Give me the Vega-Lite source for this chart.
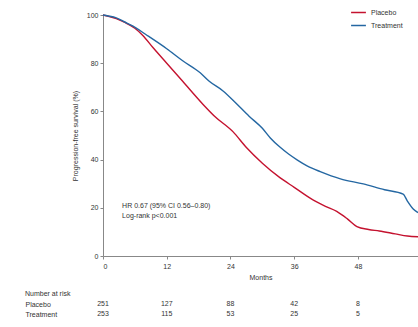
{
  "$schema": "https://vega.github.io/schema/vega-lite/v6.json",
  "padding": {"left": 25, "top": 4, "right": 0, "bottom": 0},
  "bounds": "flush",
  "spacing": 43,
  "config": {
    "font": "Liberation Sans",
    "view": {"stroke": null},
    "axis": {"labelFontSize": 7, "titleFontSize": 7, "titleFontWeight": "normal", "domainColor": "#888", "tickColor": "#888", "labelColor": "#333", "titleColor": "#333", "grid": false, "tickSize": 3}
  },
  "datasets": {
    "km": [
      {"group": "Placebo", "month": 0, "surv": 100},
      {"group": "Placebo", "month": 1, "surv": 99.5},
      {"group": "Placebo", "month": 2.5, "surv": 98.5},
      {"group": "Placebo", "month": 4, "surv": 97},
      {"group": "Placebo", "month": 6, "surv": 94.5},
      {"group": "Placebo", "month": 7.5, "surv": 91.5},
      {"group": "Placebo", "month": 9.4, "surv": 86.5},
      {"group": "Placebo", "month": 12, "surv": 80},
      {"group": "Placebo", "month": 15, "surv": 72.5},
      {"group": "Placebo", "month": 18.8, "surv": 63},
      {"group": "Placebo", "month": 21, "surv": 58},
      {"group": "Placebo", "month": 24.5, "surv": 51.5},
      {"group": "Placebo", "month": 27, "surv": 45},
      {"group": "Placebo", "month": 30, "surv": 38.5},
      {"group": "Placebo", "month": 33.3, "surv": 32.5},
      {"group": "Placebo", "month": 36, "surv": 28.5},
      {"group": "Placebo", "month": 39.6, "surv": 23.2},
      {"group": "Placebo", "month": 42, "surv": 20.5},
      {"group": "Placebo", "month": 44, "surv": 18.5},
      {"group": "Placebo", "month": 46, "surv": 15.4},
      {"group": "Placebo", "month": 47.8, "surv": 12.2},
      {"group": "Placebo", "month": 50, "surv": 11},
      {"group": "Placebo", "month": 52, "surv": 10.4},
      {"group": "Placebo", "month": 55, "surv": 9.2},
      {"group": "Placebo", "month": 57.3, "surv": 8.3},
      {"group": "Placebo", "month": 59.3, "surv": 8},
      {"group": "Treatment", "month": 0, "surv": 100},
      {"group": "Treatment", "month": 1, "surv": 99.6},
      {"group": "Treatment", "month": 2.5, "surv": 98.8},
      {"group": "Treatment", "month": 4, "surv": 97.2},
      {"group": "Treatment", "month": 5.65, "surv": 95.4},
      {"group": "Treatment", "month": 8, "surv": 92},
      {"group": "Treatment", "month": 12, "surv": 86},
      {"group": "Treatment", "month": 15, "surv": 81},
      {"group": "Treatment", "month": 18.3, "surv": 76},
      {"group": "Treatment", "month": 20, "surv": 72.5},
      {"group": "Treatment", "month": 22.6, "surv": 68.5},
      {"group": "Treatment", "month": 25, "surv": 63.5},
      {"group": "Treatment", "month": 27.5, "surv": 58},
      {"group": "Treatment", "month": 30, "surv": 53},
      {"group": "Treatment", "month": 31.5, "surv": 49},
      {"group": "Treatment", "month": 33.3, "surv": 45.2},
      {"group": "Treatment", "month": 35, "surv": 42.2},
      {"group": "Treatment", "month": 36.6, "surv": 39.8},
      {"group": "Treatment", "month": 38.5, "surv": 37.3},
      {"group": "Treatment", "month": 40.9, "surv": 35},
      {"group": "Treatment", "month": 44.7, "surv": 32},
      {"group": "Treatment", "month": 49, "surv": 29.9},
      {"group": "Treatment", "month": 53, "surv": 27.5},
      {"group": "Treatment", "month": 56.5, "surv": 25.7},
      {"group": "Treatment", "month": 57.3, "surv": 22.8},
      {"group": "Treatment", "month": 58.4, "surv": 19.5},
      {"group": "Treatment", "month": 59.3, "surv": 18}
    ],
    "notes": [
      {"month": 3.6, "surv": 20.7, "text": "HR 0.67 (95% CI 0.56–0.80)"},
      {"month": 3.6, "surv": 16.6, "text": "Log-rank p<0.001"}
    ],
    "risk": [
      {"group": "Placebo", "month": 0, "n": 251},
      {"group": "Placebo", "month": 12, "n": 127},
      {"group": "Placebo", "month": 24, "n": 88},
      {"group": "Placebo", "month": 36, "n": 42},
      {"group": "Placebo", "month": 48, "n": 8},
      {"group": "Treatment", "month": 0, "n": 253},
      {"group": "Treatment", "month": 12, "n": 115},
      {"group": "Treatment", "month": 24, "n": 53},
      {"group": "Treatment", "month": 36, "n": 25},
      {"group": "Treatment", "month": 48, "n": 5}
    ]
  },
  "vconcat": [
    {
      "width": 315,
      "height": 241,
      "layer": [
        {
          "data": {"name": "km"},
          "mark": {"type": "line", "strokeWidth": 1.4, "interpolate": "monotone"},
          "encoding": {
            "x": {"field": "month", "type": "quantitative", "scale": {"domain": [0, 59.3], "nice": false, "zero": false}, "axis": {"values": [0, 12, 24, 36, 48], "title": "Months", "titlePadding": 4, "labelPadding": 3}},
            "y": {"field": "surv", "type": "quantitative", "scale": {"domain": [0, 100], "nice": false}, "axis": {"values": [0, 10, 20, 30, 40, 50, 60, 70, 80, 90, 100], "title": "Progression-free survival (%)", "titlePadding": 8, "labelPadding": 2}},
            "color": {"field": "group", "type": "nominal", "scale": {"domain": ["Placebo", "Treatment"], "range": ["#c4122f", "#2467a2"]},
              "legend": {"title": null, "orient": "none", "legendX": 247, "legendY": -11, "symbolType": "stroke", "symbolSize": 220, "symbolStrokeWidth": 1.5, "labelFontSize": 7, "labelColor": "#333", "rowPadding": 1, "labelOffset": 4}}
          }
        },
        {
          "data": {"name": "notes"},
          "mark": {"type": "text", "align": "left", "baseline": "middle", "fontSize": 7, "color": "#333"},
          "encoding": {
            "x": {"field": "month", "type": "quantitative"},
            "y": {"field": "surv", "type": "quantitative"},
            "text": {"field": "text"}
          }
        }
      ]
    },
    {
      "width": 315,
      "height": 20,
      "title": {"text": "Number at risk", "anchor": "start", "frame": "bounds", "fontSize": 7, "fontWeight": "normal", "color": "#333", "offset": 2},
      "data": {"name": "risk"},
      "mark": {"type": "text", "fontSize": 7, "color": "#333", "baseline": "middle"},
      "encoding": {
        "x": {"field": "month", "type": "quantitative", "scale": {"domain": [0, 59.3], "nice": false, "zero": false}, "axis": null},
        "y": {"field": "group", "type": "nominal", "sort": ["Placebo", "Treatment"], "axis": {"title": null, "domain": false, "ticks": false, "labelAlign": "left", "labelPadding": 78, "labelFontSize": 7}},
        "text": {"field": "n"}
      }
    }
  ]
}
